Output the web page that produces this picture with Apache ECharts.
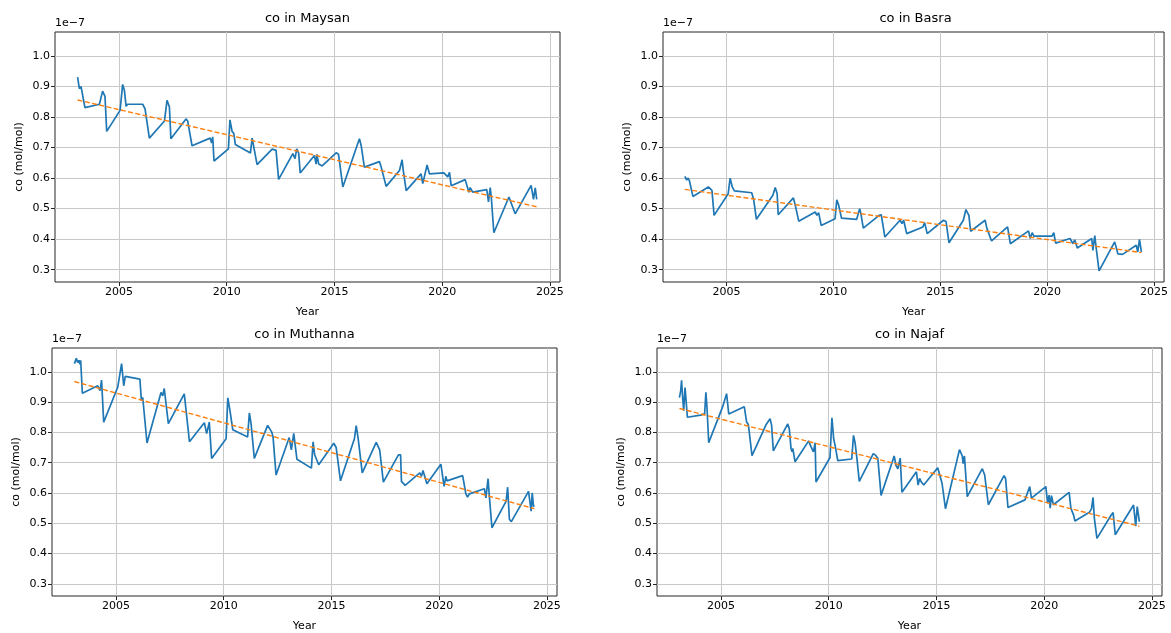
<!DOCTYPE html>
<html>
<head>
<meta charset="utf-8">
<script src="https://cdn.jsdelivr.net/npm/echarts@6/dist/echarts.min.js"></script>
<style>
html,body{margin:0;padding:0;background:#fff;}
#chart{width:1171px;height:633px;}
</style>
</head>
<body>
<div id="chart"></div>
<script>
// ---- DATA (values in units of 1e-7 mol/mol) ----
const cities = ['Maysan', 'Basra', 'Muthanna', 'Najaf'];
const xTickLabels = [2005, 2010, 2015, 2020, 2025];
const yTickLabels = [0.3, 0.4, 0.5, 0.6, 0.7, 0.8, 0.9, 1.0];

const maysanYears = [2003.08,2003.16,2003.24,2003.31,2003.42,2004.09,2004.24,2004.35,2004.43,2005.05,2005.17,2005.25,2005.33,2005.40,2006.10,2006.21,2006.41,2007.11,2007.23,2007.34,2007.41,2008.11,2008.19,2008.39,2009.23,2009.30,2009.35,2009.41,2010.08,2010.15,2010.25,2010.33,2010.40,2011.10,2011.18,2011.24,2011.41,2012.11,2012.29,2012.41,2013.07,2013.17,2013.25,2013.34,2013.41,2014.07,2014.15,2014.19,2014.27,2014.43,2015.08,2015.19,2015.39,2016.16,2016.24,2016.31,2016.39,2017.09,2017.17,2017.24,2017.40,2018.02,2018.14,2018.20,2018.33,2019.02,2019.10,2019.30,2019.41,2020.08,2020.26,2020.34,2020.42,2021.07,2021.24,2021.30,2021.42,2022.07,2022.15,2022.23,2022.28,2022.40,2023.10,2023.39,2024.13,2024.24,2024.32,2024.39];
const maysanValues = [0.931,0.893,0.900,0.896,0.831,0.842,0.885,0.868,0.753,0.822,0.907,0.888,0.835,0.842,0.842,0.827,0.731,0.787,0.855,0.833,0.729,0.794,0.787,0.706,0.731,0.715,0.735,0.656,0.696,0.791,0.753,0.746,0.710,0.682,0.731,0.732,0.644,0.695,0.691,0.596,0.680,0.664,0.696,0.682,0.617,0.674,0.646,0.678,0.646,0.640,0.683,0.678,0.571,0.729,0.707,0.710,0.636,0.654,0.636,0.641,0.573,0.625,0.660,0.623,0.559,0.614,0.582,0.643,0.614,0.617,0.604,0.619,0.575,0.595,0.554,0.569,0.554,0.562,0.522,0.569,0.538,0.421,0.538,0.483,0.576,0.530,0.568,0.530];
const maysanTrendYears = [2003.08, 2024.39];
const maysanTrendValues = [0.856, 0.506];

const basraYears = [2003.05,2003.14,2003.19,2003.26,2003.34,2003.43,2004.15,2004.24,2004.32,2004.42,2005.08,2005.17,2005.27,2005.37,2006.18,2006.27,2006.40,2007.17,2007.28,2007.37,2007.42,2008.13,2008.21,2008.38,2009.15,2009.23,2009.31,2009.43,2010.08,2010.16,2010.25,2010.38,2011.09,2011.23,2011.29,2011.40,2012.14,2012.24,2012.41,2013.12,2013.21,2013.29,2013.38,2013.43,2014.19,2014.27,2014.39,2015.15,2015.27,2015.41,2016.08,2016.20,2016.34,2016.42,2017.10,2017.18,2017.27,2017.40,2018.15,2018.28,2019.13,2019.21,2019.30,2019.38,2020.23,2020.31,2020.40,2021.07,2021.21,2021.29,2021.41,2022.09,2022.14,2022.23,2022.29,2022.43,2023.16,2023.31,2023.53,2024.17,2024.24,2024.32,2024.41];
const basraValues = [0.606,0.593,0.600,0.593,0.596,0.540,0.571,0.576,0.560,0.478,0.549,0.600,0.571,0.558,0.552,0.530,0.465,0.544,0.569,0.549,0.480,0.535,0.514,0.459,0.489,0.478,0.487,0.445,0.467,0.529,0.511,0.469,0.465,0.500,0.483,0.436,0.478,0.480,0.407,0.462,0.451,0.462,0.462,0.418,0.440,0.454,0.418,0.462,0.458,0.388,0.462,0.497,0.478,0.426,0.462,0.436,0.440,0.394,0.440,0.385,0.427,0.402,0.421,0.410,0.410,0.421,0.387,0.402,0.385,0.398,0.371,0.402,0.363,0.412,0.374,0.296,0.391,0.352,0.350,0.380,0.358,0.399,0.358];
const basraTrendYears = [2003.05, 2024.41];
const basraTrendValues = [0.563, 0.356];

const muthannaYears = [2003.07,2003.16,2003.22,2003.28,2003.33,2003.36,2003.44,2004.15,2004.26,2004.33,2004.43,2005.08,2005.26,2005.36,2005.43,2006.11,2006.18,2006.24,2006.44,2007.09,2007.17,2007.24,2007.43,2008.17,2008.41,2009.10,2009.21,2009.33,2009.44,2010.11,2010.19,2010.29,2010.42,2011.11,2011.19,2011.27,2011.42,2012.04,2012.23,2012.29,2012.43,2013.04,2013.14,2013.25,2013.40,2014.07,2014.15,2014.22,2014.41,2015.11,2015.22,2015.42,2016.07,2016.15,2016.24,2016.30,2016.43,2017.08,2017.24,2017.41,2018.11,2018.21,2018.25,2018.42,2019.10,2019.18,2019.25,2019.43,2020.08,2020.23,2020.31,2020.36,2021.09,2021.24,2021.32,2021.40,2022.10,2022.17,2022.27,2022.33,2022.45,2023.11,2023.18,2023.26,2023.35,2024.15,2024.22,2024.27,2024.32,2024.38,2024.42];
const muthannaValues = [1.027,1.045,1.031,1.038,1.025,1.038,0.929,0.954,0.938,0.973,0.834,0.949,1.027,0.954,0.985,0.976,0.905,0.916,0.765,0.932,0.921,0.945,0.829,0.927,0.769,0.832,0.796,0.834,0.714,0.779,0.914,0.872,0.809,0.785,0.864,0.829,0.714,0.823,0.801,0.785,0.659,0.783,0.742,0.797,0.711,0.682,0.769,0.726,0.693,0.764,0.750,0.640,0.780,0.822,0.780,0.778,0.666,0.767,0.742,0.636,0.726,0.726,0.638,0.625,0.666,0.655,0.674,0.630,0.695,0.622,0.655,0.640,0.657,0.597,0.586,0.597,0.614,0.584,0.647,0.589,0.485,0.573,0.619,0.513,0.505,0.605,0.600,0.540,0.600,0.555,0.560];
const muthannaTrendYears = [2003.07, 2024.42];
const muthannaTrendValues = [0.968, 0.548];

const najafYears = [2003.07,2003.13,2003.17,2003.22,2003.27,2003.33,2003.37,2003.44,2004.12,2004.18,2004.24,2004.30,2004.35,2004.43,2005.08,2005.15,2005.26,2005.36,2006.08,2006.19,2006.27,2006.44,2007.09,2007.20,2007.28,2007.35,2007.43,2008.10,2008.17,2008.25,2008.30,2008.33,2008.44,2009.07,2009.18,2009.29,2009.37,2009.41,2010.06,2010.15,2010.23,2010.31,2010.42,2011.07,2011.15,2011.22,2011.30,2011.42,2012.07,2012.17,2012.28,2012.43,2013.04,2013.12,2013.21,2013.28,2013.32,2013.40,2014.07,2014.15,2014.22,2014.29,2014.41,2015.06,2015.26,2015.42,2016.07,2016.20,2016.24,2016.30,2016.43,2017.13,2017.24,2017.41,2018.14,2018.21,2018.32,2019.11,2019.33,2019.41,2020.08,2020.16,2020.23,2020.28,2020.34,2020.43,2021.16,2021.24,2021.32,2021.37,2021.43,2022.10,2022.20,2022.27,2022.33,2022.45,2023.12,2023.20,2023.30,2024.15,2024.25,2024.32,2024.42];
const najafValues = [0.915,0.937,0.972,0.915,0.872,0.948,0.915,0.850,0.858,0.852,0.861,0.932,0.883,0.766,0.885,0.888,0.928,0.861,0.885,0.834,0.826,0.723,0.825,0.837,0.845,0.823,0.739,0.828,0.812,0.747,0.736,0.747,0.703,0.772,0.752,0.736,0.766,0.636,0.717,0.848,0.779,0.752,0.707,0.712,0.790,0.768,0.720,0.638,0.730,0.725,0.714,0.592,0.722,0.691,0.680,0.678,0.715,0.602,0.670,0.626,0.648,0.637,0.626,0.683,0.632,0.548,0.743,0.722,0.697,0.722,0.588,0.680,0.659,0.561,0.657,0.648,0.552,0.577,0.621,0.583,0.621,0.566,0.593,0.550,0.591,0.561,0.602,0.550,0.555,0.526,0.507,0.536,0.548,0.585,0.517,0.450,0.528,0.535,0.462,0.560,0.490,0.555,0.505];
const najafTrendYears = [2003.07, 2024.42];
const najafTrendValues = [0.879, 0.490];

// ---- LAYOUT ----
const FONT = 'DejaVu Sans';
const panels = [
  {left: 55,  top: 32,  width: 505, height: 250, years: maysanYears, values: maysanValues, ty: maysanTrendYears, tv: maysanTrendValues},
  {left: 663, top: 32,  width: 505, height: 250, years: basraYears, values: basraValues, ty: basraTrendYears, tv: basraTrendValues},
  {left: 52,  top: 348, width: 505, height: 250, years: muthannaYears, values: muthannaValues, ty: muthannaTrendYears, tv: muthannaTrendValues},
  {left: 657, top: 348, width: 505, height: 250, years: najafYears, values: najafValues, ty: najafTrendYears, tv: najafTrendValues}
];

function zip(a, b) {
  const n = Math.min(a.length, b.length);
  const out = [];
  for (let i = 0; i < n; i++) out.push([a[i], b[i]]);
  return out;
}

const grids = [], xAxes = [], yAxes = [], series = [], graphics = [];
panels.forEach((p, i) => {
  grids.push({left: p.left, top: p.top, width: p.width, height: p.height,
    show: true, borderColor: '#262626', borderWidth: 1, backgroundColor: 'transparent', containLabel: false});
  xAxes.push({
    type: 'value', gridIndex: i, min: 2002.03, max: 2025.47, splitNumber: 5,
    name: 'Year', nameLocation: 'middle', nameGap: 25,
    nameTextStyle: {fontFamily: FONT, fontSize: 11, color: '#000'},
    axisLine: {show: false},
    axisTick: {show: true, inside: false, length: 4, lineStyle: {color: '#262626'}, customValues: xTickLabels},
    axisLabel: {fontFamily: FONT, fontSize: 11, color: '#000', margin: 5, customValues: xTickLabels,
      formatter: v => String(Math.round(v))},
    splitLine: {show: true, lineStyle: {color: '#c8c8c8', width: 1}}
  });
  yAxes.push({
    type: 'value', gridIndex: i, min: 0.2596, max: 1.0787, splitNumber: 8,
    name: 'co (mol/mol)', nameLocation: 'middle', nameGap: 30,
    nameTextStyle: {fontFamily: FONT, fontSize: 11, color: '#000'},
    axisLine: {show: false},
    axisTick: {show: true, inside: false, length: 4, lineStyle: {color: '#262626'}, customValues: yTickLabels},
    axisLabel: {fontFamily: FONT, fontSize: 11, color: '#000', margin: 5, customValues: yTickLabels,
      formatter: v => v.toFixed(1)},
    splitLine: {show: true, lineStyle: {color: '#c8c8c8', width: 1}}
  });
  series.push({
    type: 'line', xAxisIndex: i, yAxisIndex: i, data: zip(p.years, p.values),
    showSymbol: false, symbol: 'none', lineStyle: {color: '#1f77b4', width: 1.7}, z: 3
  });
  series.push({
    type: 'line', xAxisIndex: i, yAxisIndex: i, data: zip(p.ty, p.tv),
    showSymbol: false, symbol: 'none', lineStyle: {color: '#ff7f0e', width: 1.4, type: [5, 2.4]}, z: 4
  });
  graphics.push({type: 'text', x: p.left + p.width / 2, y: p.top - 13,
    style: {text: 'co in ' + cities[i], fill: '#000', font: '13px "' + FONT + '"', align: 'center', verticalAlign: 'middle'}});
  graphics.push({type: 'text', x: p.left, y: p.top - 9,
    style: {text: '1e\u22127', fill: '#000', font: '11px "' + FONT + '"', align: 'left', verticalAlign: 'middle'}});
});

const chart = echarts.init(document.getElementById('chart'), null, {renderer: 'canvas'});
chart.setOption({
  animation: false,
  backgroundColor: '#fff',
  grid: grids,
  xAxis: xAxes,
  yAxis: yAxes,
  series: series,
  graphic: graphics
});
</script>
</body>
</html>
